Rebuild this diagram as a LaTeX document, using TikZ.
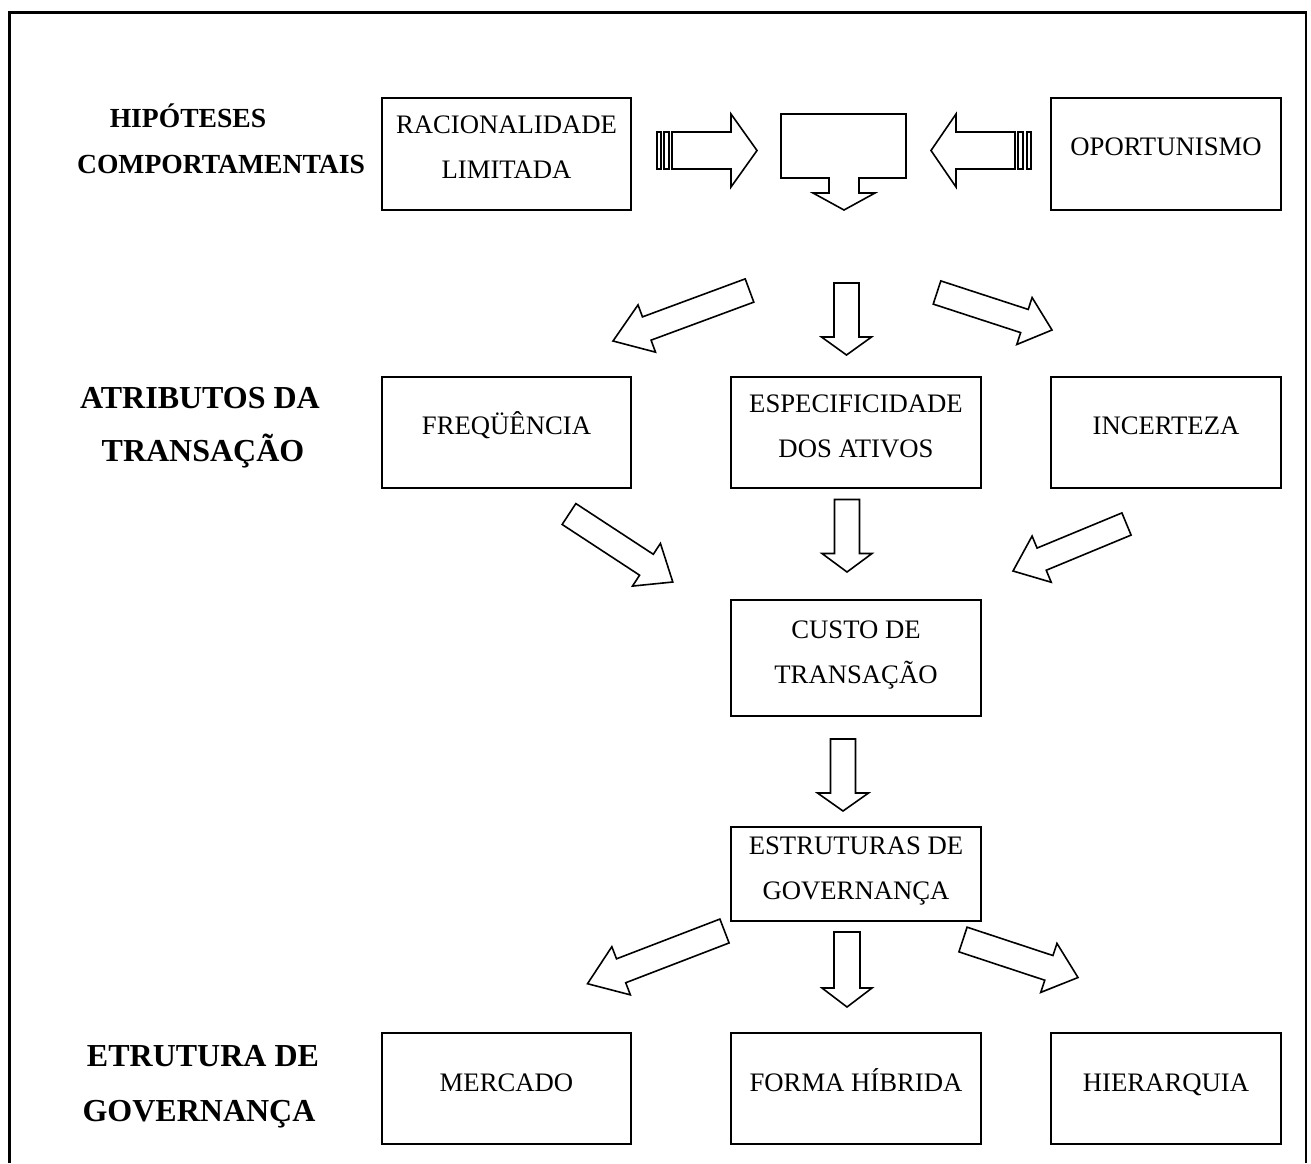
\documentclass[tikz,border=0pt]{standalone}
\usepackage{fontspec}
\setmainfont{Liberation Serif}
\usetikzlibrary{calc}
\newcommand\boxfont{\fontsize{26.7pt}{45pt}\selectfont}
\newcommand\headfont{\fontsize{27.6pt}{46pt}\selectfont\bfseries}
\newcommand\rowfont{\fontsize{32pt}{53pt}\selectfont\bfseries}
% block arrow: tail, tip, shaft half-width, head half-width, head length
\newcommand\fatarrow[5]{%
  \coordinate (fa-s) at ($(#2)!#5!(#1)$);
  \draw[arrowline] ($(#1)!#3!90:(#2)$) -- ($(fa-s)!#3!90:(#2)$)
    -- ($(fa-s)!#4!90:(#2)$) -- (#2) -- ($(fa-s)!#4!-90:(#2)$)
    -- ($(fa-s)!#3!-90:(#2)$) -- ($(#1)!#3!-90:(#2)$) -- cycle;
}
\tikzset{
  frameline/.style={line width=2.4pt},
  box/.style={draw, line width=2.2pt, inner sep=0pt},
  boxtext/.style={font=\boxfont, anchor=base, inner sep=0pt},
  headtext/.style={font=\headfont, anchor=base, inner sep=0pt},
  rowtext/.style={font=\rowfont, anchor=base, inner sep=0pt},
  arrowline/.style={draw, line width=1.6pt, line join=miter, fill=white},
}
\begin{document}
\begin{tikzpicture}[x=1pt, y=-1pt]
\useasboundingbox (0,0) rectangle (1311,1163);
% outer frame, open at the bottom
\draw[frameline] (9.5,1163) -- (9.5,12.5) -- (1306,12.5) -- (1306,1163);

% row labels
\node[headtext] (h1) at (188,127) {HIPÓTESES};
\node[headtext] (h2) at (221,173) {COMPORTAMENTAIS};
\node[rowtext] (a1) at (200,408) {ATRIBUTOS DA};
\node[rowtext] (a2) at (203,461) {TRANSAÇÃO};
\node[rowtext] (e1) at (203,1066) {ETRUTURA DE};
\node[rowtext] (e2) at (199,1121) {GOVERNANÇA};

% boxes
\node[box, minimum width=249pt, minimum height=112pt] (rac) at (506.5,154) {};
\node[box, minimum width=230pt, minimum height=112pt] (opo) at (1166,154) {};
\node[box, minimum width=249pt, minimum height=111pt] (freq) at (506.5,432.5) {};
\node[box, minimum width=250pt, minimum height=111pt] (esp) at (856,432.5) {};
\node[box, minimum width=230pt, minimum height=111pt] (inc) at (1166,432.5) {};
\node[box, minimum width=250pt, minimum height=116pt] (custo) at (856,658) {};
\node[box, minimum width=250pt, minimum height=94pt] (estr) at (856,874) {};
\node[box, minimum width=249pt, minimum height=111pt] (merc) at (506.5,1088.5) {};
\node[box, minimum width=250pt, minimum height=111pt] (forma) at (856,1088.5) {};
\node[box, minimum width=230pt, minimum height=111pt] (hier) at (1166,1088.5) {};

% box texts
\node[boxtext] (rac-1) at (506.5,133) {RACIONALIDADE};
\node[boxtext] (rac-2) at (506.5,178) {LIMITADA};
\node[boxtext] (opo-1) at (1166,155) {OPORTUNISMO};
\node[boxtext] (freq-1) at (506.5,434) {FREQÜÊNCIA};
\node[boxtext] (esp-1) at (856,412) {ESPECIFICIDADE};
\node[boxtext] (esp-2) at (856,457) {DOS ATIVOS};
\node[boxtext] (inc-1) at (1166,434) {INCERTEZA};
\node[boxtext] (custo-1) at (856,638) {CUSTO DE};
\node[boxtext] (custo-2) at (856,683) {TRANSAÇÃO};
\node[boxtext] (estr-1) at (856,854) {ESTRUTURAS DE};
\node[boxtext] (estr-2) at (856,899) {GOVERNANÇA};
\node[boxtext] (merc-1) at (506.5,1091) {MERCADO};
\node[boxtext] (forma-1) at (856,1091) {FORMA HÍBRIDA};
\node[boxtext] (hier-1) at (1166,1091) {HIERARQUIA};

% striped arrows converging on the central callout
\draw[arrowline] (657,132) rectangle (661,169);
\draw[arrowline] (664,132) rectangle (669,169);
\draw[arrowline] (672,132) -- (731,132) -- (731,114) -- (757,150.5)
  -- (731,187) -- (731,169) -- (672,169) -- cycle;
\draw[arrowline] (1027,132) rectangle (1031,169);
\draw[arrowline] (1018,132) rectangle (1023,169);
\draw[arrowline] (1015,132) -- (956,132) -- (956,114) -- (931,150.5)
  -- (956,187) -- (956,169) -- (1015,169) -- cycle;

% central callout with downward pointer
\coordinate (call) at (844,146);
\draw[arrowline] (781,114) -- (906,114) -- (906,178) -- (859,178) -- (859,193)
  -- (875,193) -- (844,210) -- (813,193) -- (829,193) -- (829,178)
  -- (781,178) -- cycle;

% arrows from the callout to the transaction attributes
\coordinate (t1) at (749.5,290.5); \coordinate (p1) at (613,341);
\coordinate (t2) at (846.5,283);   \coordinate (p2) at (846.5,355);
\coordinate (t3) at (937,292.5);   \coordinate (p3) at (1052,330);
\fatarrow{t1}{p1}{12.4pt}{25.2pt}{36pt}
\fatarrow{t2}{p2}{12.5pt}{25pt}{18pt}
\fatarrow{t3}{p3}{12.2pt}{24.7pt}{29pt}

% arrows from the attributes to the transaction cost
\coordinate (t4) at (569,514);     \coordinate (p4) at (672.8,582);
\coordinate (t5) at (847,499.5);   \coordinate (p5) at (847,572);
\coordinate (t6) at (1126.5,524);  \coordinate (p6) at (1013,571);
\fatarrow{t4}{p4}{12.5pt}{25.5pt}{31.5pt}
\fatarrow{t5}{p5}{12.5pt}{25pt}{18.5pt}
\fatarrow{t6}{p6}{12pt}{25pt}{31pt}

% arrow from the transaction cost to the governance structures
\coordinate (t7) at (843,739);     \coordinate (p7) at (843,811);
\fatarrow{t7}{p7}{12.5pt}{25.5pt}{18pt}

% arrows to the three governance forms
\coordinate (t8) at (724.5,931);   \coordinate (p8) at (587.5,983.7);
\coordinate (t9) at (847,932);     \coordinate (p9) at (847,1007);
\coordinate (t10) at (963,939.5);  \coordinate (p10) at (1078,977.5);
\fatarrow{t8}{p8}{12.8pt}{25.8pt}{36pt}
\fatarrow{t9}{p9}{13pt}{25pt}{19pt}
\fatarrow{t10}{p10}{13pt}{25.8pt}{30.7pt}
\end{tikzpicture}
\end{document}
